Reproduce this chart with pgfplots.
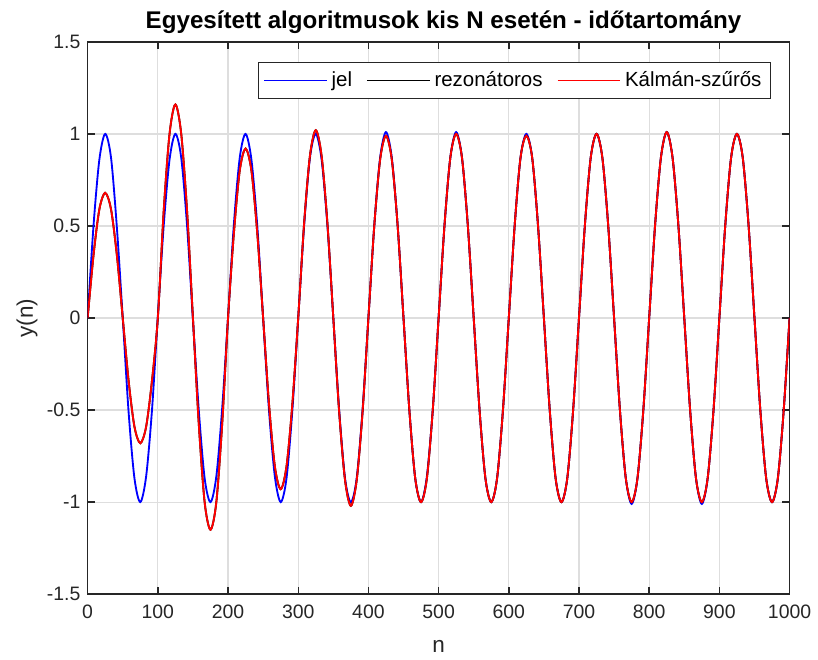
\documentclass[border=0pt]{standalone}
\usepackage{fontspec}
\setmainfont{Liberation Sans}
\usepackage{pgfplots}
\usepackage{pgfplotstable}
\pgfplotsset{compat=1.18}

% n, jel (input), rezonatoros, Kalman-szuros
\pgfplotstableread{
n jel rez kal
0 0 0 0
8.33 0.50 0.34 0.34
16.67 0.86 0.59 0.59
25 1.00 0.68 0.68
33.33 0.87 0.59 0.59
41.67 0.49 0.34 0.34
50 0.00 0.00 0.00
58.33 -0.51 -0.34 -0.34
66.67 -0.87 -0.59 -0.59
75 -1.00 -0.68 -0.68
83.33 -0.86 -0.59 -0.59
91.67 -0.50 -0.34 -0.34
100 0.01 0.00 0.00
108.33 0.50 0.58 0.58
116.67 0.86 1.00 1.00
125 1.00 1.16 1.16
133.33 0.87 1.00 1.00
141.67 0.50 0.58 0.58
150 -0.01 0.00 0.00
158.33 -0.50 -0.575 -0.575
166.67 -0.87 -1.00 -1.00
175 -1.00 -1.15 -1.15
183.33 -0.86 -1.00 -1.00
191.67 -0.49 -0.575 -0.575
200 0.00 0.00 0.00
208.33 0.51 0.46 0.46
216.67 0.87 0.80 0.80
225 1.00 0.92 0.92
233.33 0.86 0.80 0.80
241.67 0.50 0.46 0.46
250 0.00 0.00 0.00
258.33 -0.50 -0.465 -0.465
266.67 -0.86 -0.805 -0.805
275 -1.00 -0.93 -0.93
283.33 -0.87 -0.805 -0.805
291.67 -0.50 -0.465 -0.465
300 0.00 0.00 0.00
308.33 0.50 0.51 0.51
316.67 0.87 0.88 0.88
325 1.00 1.02 1.02
333.33 0.86 0.88 0.88
341.67 0.50 0.51 0.51
350 0.00 0.00 0.00
358.33 -0.50 -0.51 -0.51
366.67 -0.87 -0.88 -0.88
375 -1.00 -1.02 -1.02
383.33 -0.87 -0.88 -0.88
391.67 -0.50 -0.51 -0.51
400 0.00 0.00 0.00
408.33 0.50 0.50 0.50
416.67 0.87 0.86 0.86
425 1.01 0.99 0.99
433.33 0.87 0.86 0.86
441.67 0.50 0.50 0.50
450 0.00 0.00 0.00
458.33 -0.50 -0.50 -0.50
466.67 -0.87 -0.87 -0.87
475 -1.00 -1.00 -1.00
483.33 -0.86 -0.87 -0.87
491.67 -0.50 -0.50 -0.50
500 0.00 0.00 0.00
508.33 0.50 0.50 0.50
516.67 0.87 0.87 0.87
525 1.01 1.00 1.00
533.33 0.87 0.87 0.87
541.67 0.50 0.50 0.50
550 0.00 0.00 0.00
558.33 -0.50 -0.50 -0.50
566.67 -0.87 -0.87 -0.87
575 -1.00 -1.00 -1.00
583.33 -0.87 -0.87 -0.87
591.67 -0.50 -0.50 -0.50
600 0.00 0.00 0.00
608.33 0.50 0.50 0.50
616.67 0.87 0.87 0.87
625 1.00 0.99 0.99
633.33 0.87 0.87 0.87
641.67 0.50 0.50 0.50
650 0.00 0.00 0.00
658.33 -0.50 -0.50 -0.50
666.67 -0.87 -0.87 -0.87
675 -1.00 -1.00 -1.00
683.33 -0.87 -0.87 -0.87
691.67 -0.50 -0.50 -0.50
700 0.00 0.00 0.00
708.33 0.50 0.50 0.50
716.67 0.87 0.87 0.87
725 1.00 1.00 1.00
733.33 0.87 0.87 0.87
741.67 0.50 0.50 0.50
750 0.00 0.00 0.00
758.33 -0.50 -0.50 -0.50
766.67 -0.87 -0.87 -0.87
775 -1.01 -1.00 -1.00
783.33 -0.87 -0.87 -0.87
791.67 -0.50 -0.50 -0.50
800 0.00 0.00 0.00
808.33 0.50 0.50 0.50
816.67 0.87 0.87 0.87
825 1.01 1.01 1.01
833.33 0.87 0.87 0.87
841.67 0.50 0.50 0.50
850 0.00 0.00 0.00
858.33 -0.50 -0.50 -0.50
866.67 -0.87 -0.87 -0.87
875 -1.01 -1.00 -1.00
883.33 -0.87 -0.87 -0.87
891.67 -0.50 -0.50 -0.50
900 0.00 0.00 0.00
908.33 0.50 0.50 0.50
916.67 0.87 0.87 0.87
925 1.00 1.00 1.00
933.33 0.87 0.87 0.87
941.67 0.50 0.50 0.50
950 0.00 0.00 0.00
958.33 -0.50 -0.50 -0.50
966.67 -0.87 -0.87 -0.87
975 -1.00 -1.00 -1.00
983.33 -0.87 -0.87 -0.87
991.67 -0.50 -0.50 -0.50
1000 0.00 0.00 0.00
}\sig

\definecolor{axgray}{RGB}{38,38,38}
\definecolor{gridgray}{RGB}{222,222,222}

\begin{document}
\begin{tikzpicture}
\begin{axis}[
    name=main,
    scale only axis,
    width=12.06cm,
    height=9.49cm,
    xmin=0, xmax=1000,
    ymin=-1.5, ymax=1.5,
    xtick={0,100,...,1000},
    ytick={-1.5,-1,...,1.5},
    grid=major,
    grid style={gridgray, line width=0.6pt},
    axis line style={axgray, line width=0.7pt},
    tick style={axgray, line width=0.7pt},
    major tick length=3.5pt,
    tick align=inside,
    tick label style={font=\fontsize{9.5}{11}\selectfont, text=axgray},
    xticklabel style={yshift=-1.5pt},
    /pgf/number format/assume math mode=true,
    /pgf/number format/1000 sep={},
    yticklabel style={/pgf/number format/fixed},
    scaled ticks=false,
    title={\bfseries Egyesített algoritmusok kis N esetén - időtartomány},
    every axis title shift=0pt,
    title style={font=\fontsize{11.8}{14}\selectfont,
        at={(axis description cs:0.507,1.036)}, anchor=center, yshift=0pt},
    xlabel={n},
    ylabel={y(n)},
    label style={font=\fontsize{11}{13}\selectfont, text=axgray},
    xlabel style={at={(axis description cs:0.5,-0.0955)}, anchor=center},
    ylabel style={at={(axis description cs:-0.0865,0.5)}, anchor=center},
    legend columns=3,
    legend style={
        at={(0.974,0.964)}, anchor=north east,
        draw=axgray, line width=0.6pt,
        font=\fontsize{10}{12}\selectfont,
        /tikz/every even column/.append style={column sep=5pt},
        inner sep=2.5pt,
    },
    legend image code/.code={
        \draw[#1, line width=0.6pt] (0cm,0cm) -- (1.08cm,0cm);
    },
]
\addplot[blue, line width=0.9pt, smooth] table[x=n, y=jel] {\sig};
\addlegendentry{jel}
\addplot[black, line width=0.9pt, smooth] table[x=n, y=rez] {\sig};
\addlegendentry{rezonátoros}
\addplot[red, line width=0.9pt, smooth] table[x=n, y=kal] {\sig};
\addlegendentry{Kálmán-szűrős}
\end{axis}
% page margins as in the exported figure
\path (main.south west) ++(-1.506cm,-1.095cm);
\path (main.north east) ++(0.428cm,0.719cm);
\end{tikzpicture}
\end{document}
